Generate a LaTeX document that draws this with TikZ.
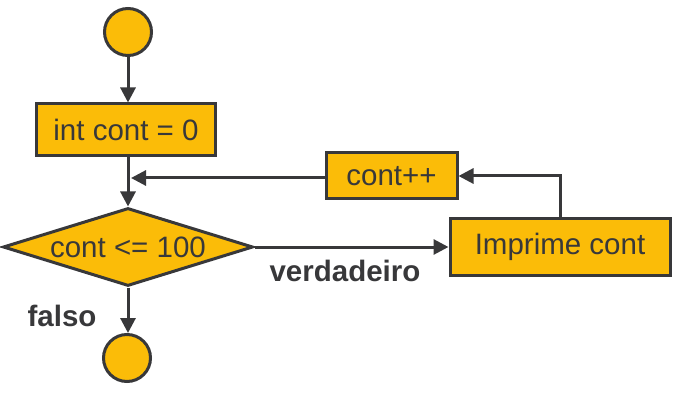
\documentclass[tikz,border=0pt]{standalone}
\usepackage{fontspec}
\setmainfont{Liberation Sans}
\usetikzlibrary{shapes.geometric,arrows.meta}
\definecolor{boxfill}{RGB}{251,188,8}
\definecolor{ink}{RGB}{56,56,58}
\begin{document}
\begin{tikzpicture}[x=1pt,y=-1pt,
  every node/.style={text=ink,font=\fontsize{29.5}{34}\selectfont},
  proc/.style={draw=ink,line width=3pt,fill=boxfill,inner sep=0pt},
  term/.style={circle,draw=ink,line width=3pt,fill=boxfill,inner sep=0pt},
  dec/.style={diamond,draw=ink,line width=3pt,fill=boxfill,inner sep=0pt,aspect=3.16},
  conn/.style={draw=ink,line width=3pt,-{Triangle[length=15pt,width=15pt]}},
  lab/.style={font=\fontsize{29.5}{34}\selectfont\bfseries}]
\useasboundingbox (0,0) rectangle (678,401);
\node[term,minimum size=47pt] (start) at (128,32) {};
\node[proc,minimum width=179pt,minimum height=52pt] (init) at (126,130) {int cont = 0};
\node[dec,minimum width=250pt,minimum height=78pt] (cond) at (128,247) {cont <= 100};
\node[term,minimum size=47pt] (stop) at (127,358) {};
\node[proc,minimum width=131pt,minimum height=46pt] (inc) at (391.5,176) {cont++};
\node[proc,minimum width=220pt,minimum height=56pt] (print) at (560,247) {Imprime cont};
\coordinate (join) at (131,178);
\draw[conn] (start.south) -- (start.south |- init.north);
\draw[conn] (init.south -| cond.north) -- (cond.north);
\draw[conn] (inc.west |- join) -- (join);
\draw[conn] (cond.east) -- (print.west);
\draw[conn] (print.north) |- (inc.east);
\draw[conn] (cond.south) -- (cond.south |- stop.north);
\node[lab] (ltrue) at (345,271) {verdadeiro};
\node[lab] (lfalse) at (62,316) {falso};
\end{tikzpicture}
\end{document}
